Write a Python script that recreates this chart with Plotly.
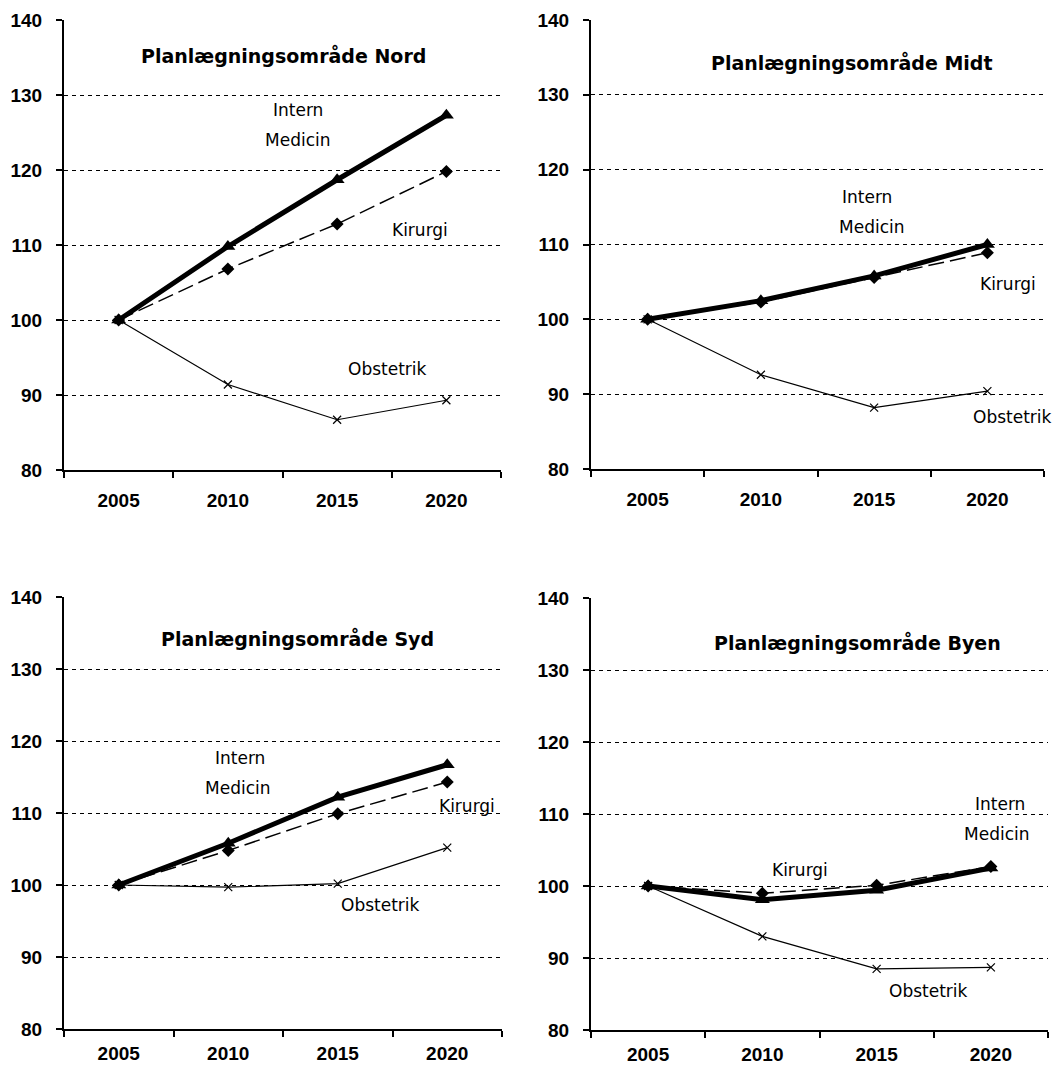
import plotly.graph_objects as go

years = ["2005", "2010", "2015", "2020"]

nord_intern = [100, 109.8, 118.7, 127.3]
nord_kirurgi = [100, 106.8, 112.8, 119.8]
nord_obst = [100, 91.4, 86.7, 89.3]

midt_intern = [100, 102.5, 105.8, 110.0]
midt_kirurgi = [100, 102.3, 105.6, 108.9]
midt_obst = [100, 92.6, 88.2, 90.4]

syd_intern = [100, 105.8, 112.2, 116.7]
syd_kirurgi = [100, 104.8, 109.9, 114.3]
syd_obst = [100, 99.7, 100.2, 105.2]

byen_intern = [100, 98.1, 99.4, 102.5]
byen_kirurgi = [100, 99.0, 100.1, 102.7]
byen_obst = [100, 93.0, 88.5, 88.7]

titles = ["Planlægningsområde Nord", "Planlægningsområde Midt",
          "Planlægningsområde Syd", "Planlægningsområde Byen"]
y_ticks = [80, 90, 100, 110, 120, 130, 140]

panels = [
    (nord_intern, nord_kirurgi, nord_obst),
    (midt_intern, midt_kirurgi, midt_obst),
    (syd_intern, syd_kirurgi, syd_obst),
    (byen_intern, byen_kirurgi, byen_obst),
]

# label positions (category index, value) per panel
label_pos = [
    {"Intern": (1.64, 128.0), "Medicin": (1.64, 124.0), "Kirurgi": (2.76, 112.0), "Obstetrik": (2.46, 93.5)},
    {"Intern": (1.94, 116.3), "Medicin": (1.98, 112.3), "Kirurgi": (3.18, 104.7), "Obstetrik": (3.22, 87.0)},
    {"Intern": (1.11, 117.6), "Medicin": (1.09, 113.5), "Kirurgi": (3.18, 111.0), "Obstetrik": (2.39, 97.2)},
    {"Intern": (3.08, 111.4), "Medicin": (3.05, 107.2), "Kirurgi": (1.33, 102.2), "Obstetrik": (2.45, 85.4)},
]

OFF = 8  # page body margin
FW, FH = 1048, 1056


def px_x(v):
    return (v - OFF) / FW


def px_y(v):
    return 1 - (v - OFF) / FH


x_domains = [(px_x(64), px_x(501)), (px_x(591), px_x(1044)), (px_x(64), px_x(502)), (px_x(591), px_x(1048))]
y_domains = [(px_y(470), px_y(20)), (px_y(469), px_y(20)),
             (px_y(1029), px_y(597)), (px_y(1030), px_y(598))]
title_pos = [(283, 55), (852, 62), (297, 638), (857, 642)]
x_standoff = [12, 12, 6, 6]

fig = go.Figure()
annotations = []
layout = {}

tick_font = dict(family="Liberation Sans", size=19, color="black", weight="bold")

for i, (intern, kir, obst) in enumerate(panels):
    n = "" if i == 0 else str(i + 1)
    xa, ya = "x" + n, "y" + n
    fig.add_trace(go.Scatter(x=years, y=obst, xaxis=xa, yaxis=ya, mode="lines+markers",
                             line=dict(color="black", width=1.2),
                             marker=dict(symbol="x-thin", size=8, line=dict(color="black", width=1.2)),
                             showlegend=False))
    fig.add_trace(go.Scatter(x=years, y=kir, xaxis=xa, yaxis=ya, mode="lines+markers",
                             line=dict(color="black", width=1.5, dash="16px,6px"),
                             marker=dict(symbol="diamond", size=10, color="black"),
                             showlegend=False))
    fig.add_trace(go.Scatter(x=years, y=intern, xaxis=xa, yaxis=ya, mode="lines+markers",
                             line=dict(color="black", width=5),
                             marker=dict(symbol="triangle-up", size=13, color="black"),
                             showlegend=False))

    layout["xaxis" + n] = dict(
        domain=list(x_domains[i]), anchor=ya, type="category", range=[-0.5, 3.5],
        showline=True, linecolor="black", linewidth=2, showgrid=False, zeroline=False,
        ticks="outside", tickson="boundaries", ticklen=6, tickwidth=2, tickcolor="black",
        tickfont=tick_font, ticklabelstandoff=x_standoff[i], automargin=False, fixedrange=True,
    )
    layout["yaxis" + n] = dict(
        domain=list(y_domains[i]), anchor=xa, range=[80, 140], tickvals=y_ticks,
        showline=True, linecolor="black", linewidth=2,
        showgrid=True, gridcolor="black", gridwidth=1, griddash="4px,4px", zeroline=False,
        ticks="outside", ticklen=6, tickwidth=2, tickcolor="black",
        tickfont=tick_font, ticklabelstandoff=10, automargin=False, fixedrange=True,
    )

    tx, ty = title_pos[i]
    annotations.append(dict(text="<b>" + titles[i] + "</b>", x=px_x(tx), y=px_y(ty),
                            xref="paper", yref="paper", showarrow=False,
                            xanchor="center", yanchor="middle",
                            font=dict(family="DejaVu Sans", size=19, color="black")))
    for label, (cx, cy) in label_pos[i].items():
        annotations.append(dict(text=label, x=(cx + 0.5) / 4, y=cy,
                                xref=xa + " domain", yref=ya, showarrow=False,
                                xanchor="center", yanchor="middle",
                                font=dict(family="DejaVu Sans", size=17, color="black")))

fig.update_layout(
    width=FW, height=FH, margin=dict(l=0, r=0, t=0, b=0),
    paper_bgcolor="white", plot_bgcolor="white",
    annotations=annotations, showlegend=False, **layout,
)

fig.write_html("out.html")
